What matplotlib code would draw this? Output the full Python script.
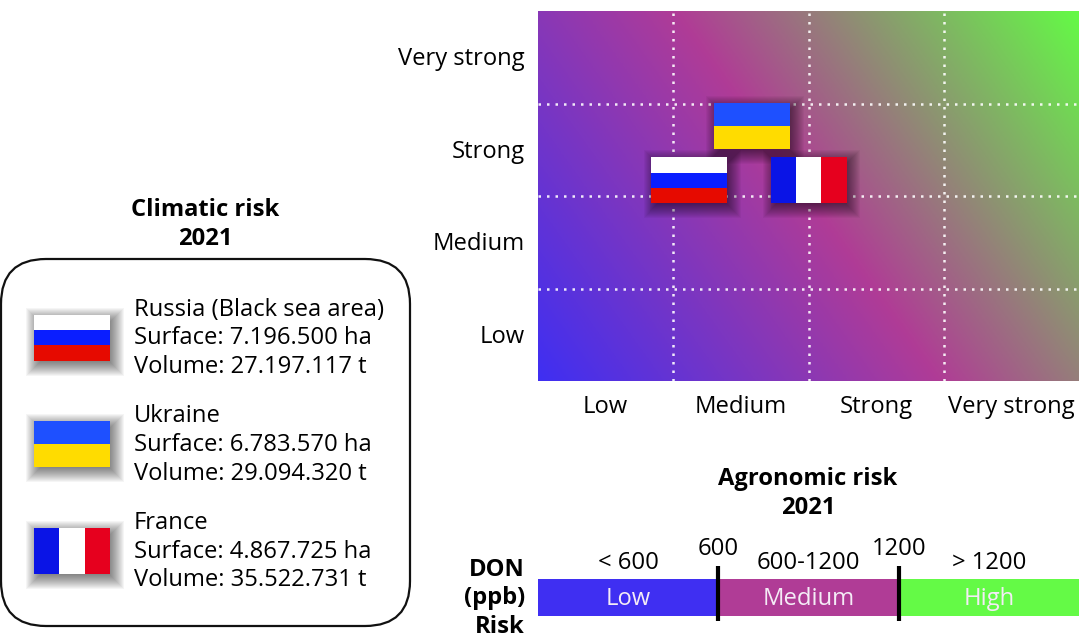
#!/usr/bin/python3
# -*- encoding: utf-8 -*-
import numpy as np
from matplotlib import pyplot as plt
from matplotlib.colors import LinearSegmentedColormap
from matplotlib.patches import FancyBboxPatch, Rectangle

plt.rcParams['font.family'] = ['Open Sans', 'DejaVu Sans']

W, H = 1080, 640
FS = 17.1

risk_levels = ['Low', 'Medium', 'Strong', 'Very strong']

# flag centres on the risk grid (agronomic, climatic)
flag_names = ['Russia', 'Ukraine', 'France']
flag_agronomic = [1.12, 1.58, 2.0]
flag_climatic = [2.17, 2.76, 2.17]

legend_names = ['Russia (Black sea area)', 'Ukraine', 'France']
legend_surface = ['7.196.500', '6.783.570', '4.867.725']
legend_volume = ['27.197.117', '29.094.320', '35.522.731']

don_labels = ['Low', 'Medium', 'High']
don_ranges = ['< 600', '600-1200', '> 1200']
don_widths = [600, 600, 600]
don_limits = [600, 1200]

BLUE = '#3f2ff2'
MAGENTA = '#b03c96'
GREEN = '#64fa46'

FLAGS = {
    'Russia': ('h', ['#ffffff', '#0a1eff', '#e60a00']),
    'Ukraine': ('h', ['#1e50ff', '#ffdc00']),
    'France': ('v', ['#0a14e6', '#ffffff', '#e6001e']),
}


def px_axes(fig, left, top, right, bottom):
    # 按像素位置添加坐标系
    return fig.add_axes([left / W, 1 - bottom / H, (right - left) / W, (bottom - top) / H])


def draw_flag(ax, name, cx, cy, w, h):
    x0, y0 = cx - w / 2, cy - h / 2
    # 阴影：一层层叠半透明矩形，向右下偏移
    unit_x, unit_y = w / 77, h / 46
    for i in range(-3, 12):
        ax.add_patch(Rectangle((x0 - i * unit_x + 3 * unit_x, y0 - i * unit_y - 4 * unit_y),
                               w + 2 * i * unit_x, h + 2 * i * unit_y,
                               fc='black', ec='none', alpha=0.04, zorder=4))
    direction, colours = FLAGS[name]
    n = len(colours)
    for i, c in enumerate(colours):
        if direction == 'h':
            # 第一种颜色在最上面
            rect = ((x0, y0 + h - (i + 1) * h / n), w, h / n)
        else:
            rect = ((x0 + i * w / n, y0), w / n, h)
        ax.add_patch(Rectangle(*rect, fc=c, ec='none', zorder=5))


fig = plt.figure(figsize=(W / 100, H / 100), dpi=100)

# 气候/农艺风险矩阵
ax = px_axes(fig, 538, 11, 1079, 381)
u, v = np.meshgrid(np.linspace(0, 1, 400), np.linspace(0, 1, 300))
cmap = LinearSegmentedColormap.from_list('risk', [BLUE, MAGENTA, GREEN])
ax.imshow(0.672 * u + 0.328 * v, origin='lower', extent=[0, 4, 0, 4], aspect='auto',
          cmap=cmap, vmin=0, vmax=1, interpolation='bilinear')
ax.set_xlim(0, 4)
ax.set_ylim(0, 4)
for k in range(1, 4):
    ax.axvline(k, color='white', lw=1.8, ls=(0, (1, 2.4)), alpha=0.9, zorder=2)
    ax.axhline(k, color='white', lw=1.8, ls=(0, (1, 2.4)), alpha=0.9, zorder=2)
ax.set_xticks(np.arange(4) + 0.5, risk_levels, fontsize=FS)
ax.set_yticks(np.arange(4) + 0.51, risk_levels, fontsize=FS)
ax.tick_params(length=0)
ax.tick_params(axis='y', pad=9.5)
ax.tick_params(axis='x', pad=10)
for s in ax.spines.values():
    s.set_visible(False)
for name, a, c in zip(flag_names, flag_agronomic, flag_climatic):
    draw_flag(ax, name, a, c, 76 / 135.25, 46 / 92.5)

# 左边图例和其余文字，用像素坐标
over = fig.add_axes([0, 0, 1, 1], facecolor='none')
over.set_xlim(0, W)
over.set_ylim(H, 0)
over.axis('off')

over.add_patch(FancyBboxPatch((1, 259), 409, 367, boxstyle='round,pad=0,rounding_size=45',
                              fc='white', ec='#111111', lw=1.6, zorder=1))

over.text(205, 210, 'Climatic risk', fontsize=FS, fontweight='bold', ha='center', va='center')
over.text(205, 239, '2021', fontsize=FS, fontweight='bold', ha='center', va='center')

for i, (name, surf, vol) in enumerate(zip(legend_names, legend_surface, legend_volume)):
    top = 310 + i * 106.5
    key = name.split()[0]
    draw_flag(over, key, 72, 337.5 + i * 106.5, 76, -46)
    over.text(134, top, name, fontsize=FS, va='center')
    over.text(134, top + 28.5, 'Surface: %s ha' % surf, fontsize=FS, va='center')
    over.text(134, top + 57, 'Volume: %s t' % vol, fontsize=FS, va='center')

over.text(808, 479, 'Agronomic risk', fontsize=FS, fontweight='bold', ha='center', va='center')
over.text(808, 508, '2021', fontsize=FS, fontweight='bold', ha='center', va='center')

for txt, y in zip(['DON', '(ppb)', 'Risk'], [570, 598, 627]):
    over.text(525, y, txt, fontsize=FS, fontweight='bold', ha='right', va='center')

# DON 条
bar = px_axes(fig, 538, 579, 1079, 616)
bar.set_xlim(0, sum(don_widths))
bar.set_ylim(0, 1)
bar.axis('off')
left = 0
for width, colour, lab, rng in zip(don_widths, [BLUE, MAGENTA, GREEN], don_labels, don_ranges):
    bar.barh(0.5, width, height=1, left=left, color=colour)
    bar.text(left + width / 2, 0.47, lab, color='#f4ecf6', fontsize=FS, ha='center', va='center')
    bar.text(left + width / 2, 1.42, rng, fontsize=FS, ha='center', va='center')
    left += width
for lim in don_limits:
    bar.plot([lim, lim], [-0.13, 1.35], color='black', lw=3, clip_on=False, solid_capstyle='butt')
    bar.text(lim, 1.8, str(lim), fontsize=FS, ha='center', va='center')

fig.savefig('out.png', dpi=100)
